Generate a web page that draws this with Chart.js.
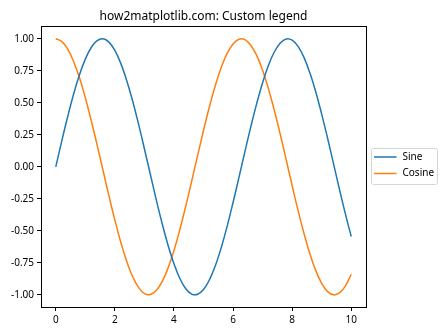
<!DOCTYPE html>
<html>
<head>
<meta charset="utf-8">
<script src="https://cdn.jsdelivr.net/npm/chart.js@4/dist/chart.umd.min.js"></script>
<style>
html,body{margin:0;padding:0;background:#fff;}
canvas{display:block;}
</style>
</head>
<body>
<canvas id="c" width="448" height="336"></canvas>
<script>
const titleText = "how2matplotlib.com: Custom legend";
const seriesNames = ["Sine", "Cosine"];
const xValues = [0,0.2,0.4,0.6,0.8,1.0,1.2,1.4,1.6,1.8,2.0,2.2,2.4,2.6,2.8,3.0,3.2,3.4,3.6,3.8,4.0,4.2,4.4,4.6,4.8,5.0,5.2,5.4,5.6,5.8,6.0,6.2,6.4,6.6,6.8,7.0,7.2,7.4,7.6,7.8,8.0,8.2,8.4,8.6,8.8,9.0,9.2,9.4,9.6,9.8,10.0];
const sineValues = [0.000,0.199,0.389,0.565,0.717,0.841,0.932,0.985,1.000,0.974,0.909,0.808,0.675,0.516,0.335,0.141,-0.058,-0.256,-0.443,-0.612,-0.757,-0.872,-0.952,-0.994,-0.996,-0.959,-0.883,-0.773,-0.631,-0.465,-0.279,-0.083,0.117,0.312,0.494,0.657,0.794,0.899,0.968,0.999,0.989,0.941,0.855,0.734,0.585,0.412,0.223,0.025,-0.174,-0.366,-0.544];
const cosineValues = [1.000,0.980,0.921,0.825,0.697,0.540,0.362,0.170,-0.029,-0.227,-0.416,-0.589,-0.737,-0.857,-0.942,-0.990,-0.998,-0.967,-0.897,-0.791,-0.654,-0.490,-0.307,-0.112,0.087,0.284,0.469,0.635,0.776,0.886,0.960,0.997,0.993,0.950,0.870,0.754,0.608,0.438,0.252,0.054,-0.146,-0.340,-0.519,-0.679,-0.811,-0.911,-0.975,-1.000,-0.985,-0.932,-0.839];
const xTicks = [0,2,4,6,8,10];
const yTicks = [-1.00,-0.75,-0.50,-0.25,0.00,0.25,0.50,0.75,1.00];

const FONT = "'Noto Sans', 'Open Sans', sans-serif";
const colors = ["#1f77b4", "#ff7f0e"];

function pts(ys){ return xValues.map((x,i)=>({x:x, y:ys[i]})); }

const framePlugin = {
  id: 'frame',
  afterDraw(chart){
    const ctx = chart.ctx, a = chart.chartArea;
    ctx.save();
    ctx.strokeStyle = '#000';
    ctx.lineWidth = 1;
    ctx.strokeRect(Math.round(a.left)+0.5, Math.round(a.top)+0.5, Math.round(a.right-a.left), Math.round(a.bottom-a.top));
    // title
    ctx.fillStyle = '#000';
    ctx.font = "12px " + FONT;
    ctx.textAlign = 'center';
    ctx.textBaseline = 'alphabetic';
    ctx.fillText(titleText, (a.left+a.right)/2, 20);
    // legend
    const bx = 371.5, by = 148.5, bw = 66, bh = 36;
    ctx.fillStyle = 'rgba(255,255,255,0.8)';
    ctx.strokeStyle = '#d6d6d6';
    ctx.lineWidth = 1;
    ctx.beginPath();
    if (ctx.roundRect) ctx.roundRect(bx, by, bw, bh, 2); else ctx.rect(bx, by, bw, bh);
    ctx.fill(); ctx.stroke();
    ctx.font = "10px " + FONT;
    ctx.textAlign = 'left';
    ctx.textBaseline = 'middle';
    seriesNames.forEach((n,i)=>{
      const yy = by + 8.5 + i*16.5;
      ctx.strokeStyle = colors[i];
      ctx.lineWidth = 1.5;
      ctx.beginPath(); ctx.moveTo(bx+2.5, yy); ctx.lineTo(bx+25, yy); ctx.stroke();
      ctx.fillStyle = '#000';
      ctx.fillText(n, bx+31, yy);
    });
    ctx.restore();
  }
};

new Chart(document.getElementById('c'), {
  type: 'line',
  data: {
    datasets: [
      {label: seriesNames[0], data: pts(sineValues), borderColor: colors[0], borderWidth: 1.5, pointRadius: 0, tension: 0.4, fill: false},
      {label: seriesNames[1], data: pts(cosineValues), borderColor: colors[1], borderWidth: 1.5, pointRadius: 0, tension: 0.4, fill: false}
    ]
  },
  options: {
    responsive: false,
    animation: false,
    devicePixelRatio: 1,
    layout: {padding: {left: 0, right: 82, top: 26, bottom: 0}},
    plugins: {legend: {display: false}, title: {display: false}, tooltip: {enabled: false}},
    scales: {
      x: {
        type: 'linear', min: -0.5, max: 10.5,
        afterBuildTicks(s){ s.ticks = xTicks.map(v=>({value:v})); },
        afterFit(s){ s.height = 29; },
        grid: {drawOnChartArea: false, drawTicks: true, tickLength: 4, tickColor: '#000'},
        border: {display: true, color: '#000', width: 1},
        ticks: {color: '#000', font: {family: FONT, size: 10}, padding: 3, maxRotation: 0, callback: v => String(v)}
      },
      y: {
        type: 'linear', min: -1.095, max: 1.1,
        afterBuildTicks(s){ s.ticks = yTicks.map(v=>({value:v})); },
        afterFit(s){ s.width = 41; },
        grid: {drawOnChartArea: false, drawTicks: true, tickLength: 4, tickColor: '#000'},
        border: {display: true, color: '#000', width: 1},
        ticks: {color: '#000', font: {family: FONT, size: 10}, padding: 3, callback: v => Number(v).toFixed(2)}
      }
    }
  },
  plugins: [framePlugin]
});
</script>
</body>
</html>
